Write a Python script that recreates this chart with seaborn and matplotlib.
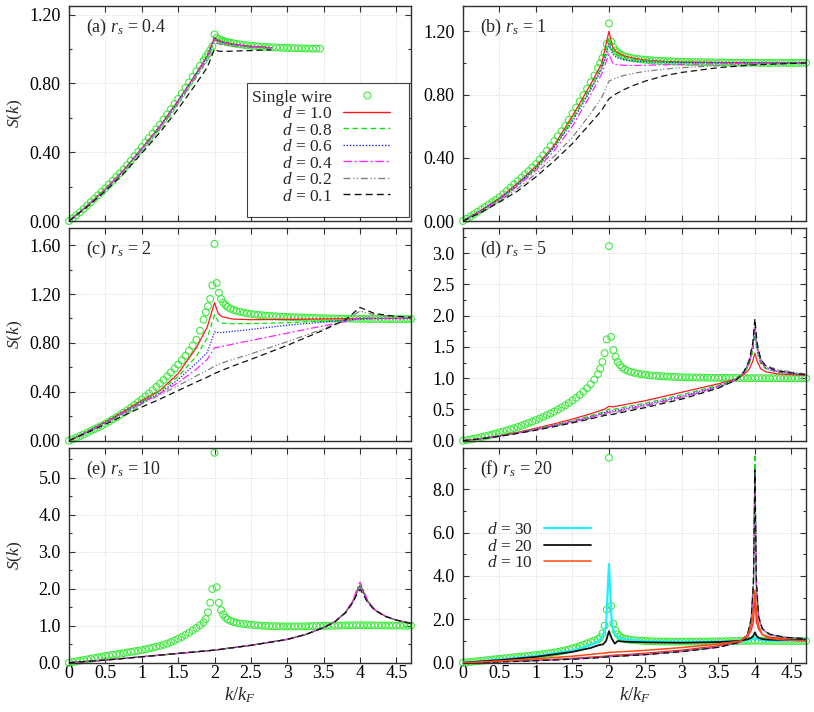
"""
Static structure factor S(k) of a double wire vs single wire, panels (a)-(f)
"""

import numpy as np
import matplotlib.pyplot as plt
import matplotlib.ticker as mticker
from matplotlib.lines import Line2D
from matplotlib.patches import Rectangle
import seaborn as sns

# ── Style ──────────────────────────────────────────────────────────────────
sns.set_theme(style='ticks')
plt.rcParams.update({
    'font.family': ['Liberation Serif', 'DejaVu Serif'],
    'mathtext.fontset': 'custom',
    'mathtext.rm': 'Liberation Serif',
    'mathtext.it': 'Liberation Serif:italic',
    'axes.edgecolor': '#303030',
    'axes.linewidth': 1.0,
    'xtick.color': '#303030',
    'ytick.color': '#303030',
    'xtick.labelcolor': 'black',
    'ytick.labelcolor': 'black',
    'xtick.labelsize': 13,
    'ytick.labelsize': 13,
    'xtick.major.pad': 2,
    'ytick.major.pad': 6,
})

# ── Data ───────────────────────────────────────────────────────────────────
# k/kF grid of the single-wire points (denser around k = 2 kF)
K_DOT = np.array([
    0.00, 0.05, 0.10, 0.15, 0.20, 0.25, 0.30, 0.35, 0.40, 0.45,
    0.50, 0.55, 0.60, 0.65, 0.70, 0.75, 0.80, 0.85, 0.90, 0.95,
    1.00, 1.05, 1.10, 1.15, 1.20, 1.25, 1.30, 1.35, 1.40, 1.45,
    1.50, 1.55, 1.60, 1.65, 1.70, 1.75, 1.80,
    1.85, 1.88, 1.91, 1.94, 1.97, 2.00, 2.03, 2.06, 2.09, 2.12, 2.15, 2.18,
    2.22, 2.26, 2.30,
    2.35, 2.40, 2.45, 2.50, 2.55, 2.60, 2.65, 2.70, 2.75, 2.80,
    2.85, 2.90, 2.95, 3.00, 3.05, 3.10, 3.15, 3.20, 3.25, 3.30,
    3.35, 3.40, 3.45, 3.50, 3.55, 3.60, 3.65, 3.70, 3.75, 3.80,
    3.85, 3.90, 3.95, 4.00, 4.05, 4.10, 4.15, 4.20, 4.25, 4.30,
    4.35, 4.40, 4.45, 4.50, 4.55, 4.60, 4.65, 4.70])

DOT_A = [0.000, 0.015, 0.033, 0.050, 0.070, 0.090, 0.110, 0.130, 0.150, 0.170,
         0.190, 0.212, 0.234, 0.256, 0.278, 0.300, 0.325, 0.350, 0.377, 0.403,
         0.430, 0.456, 0.482, 0.508, 0.534, 0.560, 0.590, 0.620, 0.650, 0.680,
         0.710, 0.742, 0.774, 0.806, 0.838, 0.870, 0.902,
         0.934, 0.953, 0.973, 0.993, 1.015, 1.085, 1.065, 1.058, 1.052, 1.047, 1.043, 1.040,
         1.036, 1.033, 1.030,
         1.027, 1.024, 1.021, 1.019, 1.017, 1.015, 1.013, 1.012, 1.011, 1.010,
         1.009, 1.008, 1.007, 1.006, 1.005, 1.005, 1.004, 1.004, 1.003, 1.003,
         1.002, 1.002, 1.002]

DOT_B = [0.000, 0.014, 0.028, 0.043, 0.058, 0.073, 0.088, 0.104, 0.119, 0.134,
         0.150, 0.170, 0.190, 0.211, 0.232, 0.253, 0.274, 0.295, 0.316, 0.338,
         0.360, 0.388, 0.416, 0.445, 0.474, 0.505, 0.536, 0.568, 0.600, 0.640,
         0.680, 0.718, 0.756, 0.796, 0.836, 0.878, 0.920,
         0.968, 0.998, 1.030, 1.065, 1.120, 1.250, 1.135, 1.100, 1.080, 1.066, 1.056, 1.048,
         1.041, 1.036, 1.032,
         1.028, 1.025, 1.022, 1.020, 1.018, 1.016, 1.014, 1.013, 1.012, 1.011,
         1.010, 1.009, 1.008, 1.007, 1.007, 1.006, 1.006, 1.005, 1.005, 1.004,
         1.004, 1.004, 1.003, 1.003, 1.003, 1.002, 1.002, 1.002, 1.002, 1.001,
         1.001, 1.001, 1.001, 1.001, 1.000, 1.000, 1.000, 1.000, 1.000, 1.000,
         1.000, 1.000, 1.000, 1.000, 1.000, 1.000, 1.000, 1.000]

DOT_C = [0.000, 0.012, 0.025, 0.038, 0.052, 0.066, 0.080, 0.094, 0.109, 0.124,
         0.140, 0.157, 0.174, 0.192, 0.210, 0.229, 0.249, 0.270, 0.292, 0.315,
         0.338, 0.362, 0.387, 0.413, 0.440, 0.468, 0.497, 0.527, 0.558, 0.590,
         0.623, 0.658, 0.695, 0.735, 0.778, 0.825, 0.900,
         0.990, 1.050, 1.100, 1.160, 1.270, 1.610, 1.290, 1.210, 1.160, 1.130, 1.110, 1.095,
         1.080, 1.070, 1.062,
         1.055, 1.048, 1.042, 1.037, 1.033, 1.029, 1.026, 1.023, 1.021, 1.019,
         1.017, 1.015, 1.013, 1.012, 1.011, 1.010, 1.009, 1.008, 1.007, 1.006,
         1.005, 1.004, 1.003, 1.002, 1.001, 1.000, 1.000, 0.999, 0.999, 0.998,
         0.998, 0.998, 0.997, 0.997, 0.997, 0.996, 0.996, 0.996, 0.996, 0.996,
         0.995, 0.995, 0.995, 0.995, 0.995, 0.995, 0.995, 0.995]

DOT_D = [0.000, 0.010, 0.020, 0.031, 0.043, 0.056, 0.070, 0.084, 0.099, 0.114,
         0.130, 0.147, 0.164, 0.182, 0.201, 0.220, 0.240, 0.261, 0.283, 0.306,
         0.330, 0.355, 0.381, 0.408, 0.436, 0.466, 0.497, 0.530, 0.565, 0.602,
         0.642, 0.685, 0.732, 0.783, 0.840, 0.903, 0.975,
         1.065, 1.150, 1.260, 1.400, 1.620, 3.110, 1.660, 1.450, 1.340, 1.260, 1.210, 1.170,
         1.140, 1.115, 1.100,
         1.085, 1.072, 1.062, 1.054, 1.047, 1.041, 1.036, 1.032, 1.028, 1.025,
         1.022, 1.019, 1.017, 1.015, 1.013, 1.012, 1.011, 1.010, 1.009, 1.008,
         1.007, 1.006, 1.005, 1.005, 1.004, 1.004, 1.003, 1.003, 1.002, 1.002,
         1.002, 1.001, 1.001, 1.000, 1.000, 1.000, 0.999, 0.999, 0.999, 0.999,
         0.999, 0.998, 0.998, 0.998, 0.998, 0.998, 0.998, 0.998]

DOT_E = [0.000, 0.018, 0.036, 0.054, 0.072, 0.090, 0.108, 0.126, 0.144, 0.162,
         0.180, 0.196, 0.212, 0.228, 0.244, 0.260, 0.276, 0.292, 0.308, 0.324,
         0.340, 0.362, 0.385, 0.408, 0.431, 0.455, 0.485, 0.518, 0.555, 0.598,
         0.645, 0.695, 0.750, 0.810, 0.875, 0.940, 1.010,
         1.090, 1.180, 1.360, 1.620, 1.990, 5.670, 2.040, 1.620, 1.420, 1.300, 1.220, 1.170,
         1.130, 1.100, 1.080,
         1.060, 1.045, 1.035, 1.025, 1.015, 1.008, 1.000, 0.995, 0.990, 0.987,
         0.985, 0.983, 0.982, 0.981, 0.981, 0.981, 0.982, 0.983, 0.984, 0.986,
         0.988, 0.990, 0.992, 0.994, 0.996, 0.998, 1.000, 1.002, 1.004, 1.006,
         1.008, 1.010, 1.011, 1.012, 1.011, 1.010, 1.009, 1.008, 1.007, 1.006,
         1.005, 1.004, 1.003, 1.002, 1.002, 1.001, 1.001, 1.000]

DOT_F = [0.000, 0.018, 0.036, 0.054, 0.072, 0.090, 0.108, 0.126, 0.144, 0.162,
         0.180, 0.197, 0.214, 0.231, 0.248, 0.265, 0.282, 0.299, 0.316, 0.333,
         0.350, 0.372, 0.395, 0.419, 0.444, 0.470, 0.500, 0.533, 0.570, 0.612,
         0.660, 0.712, 0.768, 0.828, 0.892, 0.958, 1.025,
         1.080, 1.170, 1.350, 1.700, 2.450, 9.450, 2.620, 1.800, 1.480, 1.310, 1.210, 1.150,
         1.100, 1.070, 1.050,
         1.035, 1.020, 1.010, 1.000, 0.993, 0.987, 0.982, 0.978, 0.975, 0.973,
         0.972, 0.971, 0.970, 0.970, 0.970, 0.971, 0.972, 0.973, 0.974, 0.976,
         0.978, 0.980, 0.982, 0.985, 0.988, 0.991, 0.994, 0.997, 1.000, 1.003,
         1.006, 1.008, 1.010, 1.012, 1.011, 1.010, 1.009, 1.008, 1.007, 1.006,
         1.005, 1.004, 1.003, 1.002, 1.002, 1.001, 1.001, 1.000]

# double-wire curves, order d = 1.0, 0.8, 0.6, 0.4, 0.2, 0.1
K_A = [0, 0.25, 0.5, 0.75, 1.0, 1.25, 1.5, 1.75, 1.9, 2.0, 2.05, 2.1, 2.2, 2.35, 2.5, 2.78]
LINES_A = [
    [0, 0.088, 0.186, 0.295, 0.422, 0.552, 0.700, 0.860, 0.960, 1.068, 1.052, 1.043, 1.033, 1.023, 1.016, 1.008],
    [0, 0.088, 0.186, 0.294, 0.421, 0.551, 0.699, 0.858, 0.958, 1.065, 1.050, 1.041, 1.031, 1.022, 1.015, 1.007],
    [0, 0.087, 0.185, 0.293, 0.420, 0.549, 0.697, 0.856, 0.955, 1.062, 1.047, 1.039, 1.030, 1.021, 1.014, 1.007],
    [0, 0.087, 0.184, 0.292, 0.418, 0.547, 0.694, 0.852, 0.951, 1.056, 1.043, 1.036, 1.028, 1.020, 1.013, 1.006],
    [0, 0.086, 0.182, 0.288, 0.412, 0.539, 0.684, 0.840, 0.937, 1.040, 1.030, 1.025, 1.019, 1.013, 1.009, 1.004],
    [0, 0.082, 0.174, 0.276, 0.394, 0.515, 0.652, 0.800, 0.893, 1.000, 0.988, 0.986, 0.987, 0.989, 0.991, 0.995],
]

K_B = [0, 0.25, 0.5, 0.75, 1.0, 1.25, 1.5, 1.75, 1.9, 2.0, 2.05, 2.1, 2.2, 2.35, 2.5, 2.75, 3.0, 3.5, 4.0, 4.7]
LINES_B = [
    [0, 0.068, 0.144, 0.240, 0.346, 0.480, 0.665, 0.865, 0.995, 1.200, 1.100, 1.070, 1.045, 1.028, 1.018, 1.010, 1.006, 1.003, 1.001, 1.000],
    [0, 0.067, 0.142, 0.236, 0.340, 0.472, 0.648, 0.848, 0.975, 1.160, 1.080, 1.055, 1.035, 1.022, 1.014, 1.008, 1.005, 1.002, 1.001, 1.000],
    [0, 0.066, 0.140, 0.232, 0.335, 0.465, 0.630, 0.830, 0.960, 1.120, 1.055, 1.035, 1.020, 1.012, 1.007, 1.004, 1.002, 1.001, 1.000, 1.000],
    [0, 0.064, 0.135, 0.222, 0.320, 0.445, 0.600, 0.800, 0.930, 1.055, 1.000, 0.990, 0.985, 0.984, 0.985, 0.988, 0.991, 0.995, 0.998, 1.000],
    [0, 0.058, 0.125, 0.205, 0.300, 0.410, 0.530, 0.680, 0.780, 0.885, 0.895, 0.905, 0.920, 0.935, 0.947, 0.960, 0.970, 0.983, 0.992, 1.000],
    [0, 0.055, 0.120, 0.190, 0.280, 0.380, 0.490, 0.620, 0.700, 0.773, 0.790, 0.805, 0.830, 0.860, 0.885, 0.918, 0.940, 0.970, 0.988, 1.000],
]

K_C = [0, 0.25, 0.5, 0.75, 1.0, 1.25, 1.5, 1.75, 1.9, 2.0, 2.05, 2.1, 2.25, 2.5, 3.0, 3.5, 3.8, 4.0, 4.2, 4.45, 4.7]
LINES_C = [
    [0, 0.074, 0.154, 0.240, 0.330, 0.410, 0.550, 0.760, 0.930, 1.130, 1.040, 1.015, 0.995, 0.990, 0.992, 0.996, 0.998, 1.000, 1.000, 1.000, 1.000],
    [0, 0.073, 0.152, 0.236, 0.322, 0.405, 0.525, 0.690, 0.840, 1.030, 0.975, 0.962, 0.957, 0.958, 0.965, 0.978, 0.988, 0.995, 0.998, 1.000, 1.000],
    [0, 0.072, 0.150, 0.232, 0.315, 0.390, 0.500, 0.635, 0.720, 0.890, 0.885, 0.885, 0.895, 0.910, 0.945, 0.970, 0.985, 0.995, 1.000, 1.000, 1.000],
    [0, 0.072, 0.148, 0.228, 0.310, 0.385, 0.475, 0.585, 0.665, 0.760, 0.765, 0.770, 0.790, 0.820, 0.880, 0.940, 0.975, 1.005, 1.000, 1.000, 1.000],
    [0, 0.070, 0.145, 0.220, 0.300, 0.375, 0.450, 0.530, 0.575, 0.610, 0.622, 0.635, 0.665, 0.710, 0.810, 0.915, 0.990, 1.060, 1.030, 1.015, 1.010],
    [0, 0.065, 0.135, 0.205, 0.275, 0.340, 0.410, 0.480, 0.520, 0.550, 0.562, 0.575, 0.610, 0.665, 0.780, 0.905, 0.990, 1.090, 1.040, 1.020, 1.010],
]

K_D = [0, 0.25, 0.5, 0.75, 1.0, 1.25, 1.5, 1.75, 1.95, 2.0, 2.05, 2.25, 2.5, 3.0, 3.5,
       3.75, 3.85, 3.92, 3.97, 4.0, 4.03, 4.08, 4.15, 4.3, 4.5, 4.7]
LINES_D = [
    [0, 0.035, 0.080, 0.135, 0.200, 0.270, 0.345, 0.430, 0.510, 0.550, 0.540, 0.585, 0.640, 0.775, 0.910,
     0.990, 1.060, 1.140, 1.270, 1.400, 1.270, 1.150, 1.100, 1.070, 1.055, 1.045],
    [0, 0.034, 0.076, 0.128, 0.188, 0.252, 0.320, 0.398, 0.470, 0.505, 0.500, 0.545, 0.600, 0.735, 0.885,
     0.985, 1.080, 1.210, 1.420, 1.700, 1.420, 1.230, 1.150, 1.100, 1.070, 1.050],
    [0, 0.033, 0.074, 0.124, 0.182, 0.244, 0.310, 0.384, 0.452, 0.475, 0.475, 0.520, 0.578, 0.712, 0.870,
     0.982, 1.090, 1.230, 1.470, 1.780, 1.470, 1.250, 1.160, 1.105, 1.075, 1.052],
    [0, 0.033, 0.073, 0.121, 0.177, 0.238, 0.302, 0.374, 0.440, 0.455, 0.458, 0.505, 0.565, 0.700, 0.860,
     0.980, 1.095, 1.240, 1.500, 1.830, 1.500, 1.270, 1.170, 1.110, 1.080, 1.055],
    [0, 0.032, 0.072, 0.119, 0.173, 0.232, 0.294, 0.362, 0.425, 0.435, 0.440, 0.490, 0.550, 0.685, 0.850,
     0.978, 1.100, 1.260, 1.530, 1.880, 1.540, 1.300, 1.200, 1.140, 1.100, 1.065],
    [0, 0.031, 0.070, 0.116, 0.168, 0.225, 0.285, 0.350, 0.405, 0.415, 0.420, 0.470, 0.530, 0.665, 0.840,
     0.975, 1.105, 1.280, 1.560, 1.950, 1.560, 1.300, 1.190, 1.120, 1.085, 1.055],
]

K_E = [0, 0.5, 1.0, 1.5, 2.0, 2.5, 3.0, 3.25, 3.5, 3.65, 3.8, 3.9, 3.96, 4.0, 4.04, 4.1, 4.2, 4.35, 4.5, 4.7]
LINES_E = [
    [0, 0.07, 0.16, 0.25, 0.34, 0.47, 0.63, 0.76, 0.95, 1.10, 1.36, 1.65, 1.94, 2.10, 1.94, 1.68, 1.43, 1.25, 1.15, 1.06],
    [0, 0.07, 0.16, 0.25, 0.34, 0.47, 0.63, 0.76, 0.95, 1.10, 1.36, 1.66, 1.96, 2.12, 1.95, 1.68, 1.43, 1.25, 1.15, 1.06],
    [0, 0.07, 0.16, 0.25, 0.34, 0.47, 0.63, 0.76, 0.95, 1.10, 1.35, 1.64, 1.92, 2.08, 1.92, 1.67, 1.43, 1.25, 1.15, 1.06],
    [0, 0.07, 0.16, 0.25, 0.34, 0.47, 0.63, 0.76, 0.95, 1.10, 1.37, 1.68, 2.00, 2.18, 2.00, 1.70, 1.44, 1.26, 1.15, 1.06],
    [0, 0.07, 0.16, 0.25, 0.34, 0.47, 0.63, 0.76, 0.95, 1.10, 1.35, 1.63, 1.90, 2.05, 1.90, 1.66, 1.42, 1.25, 1.15, 1.06],
    [0, 0.07, 0.16, 0.25, 0.34, 0.47, 0.63, 0.76, 0.95, 1.10, 1.35, 1.62, 1.86, 1.98, 1.86, 1.64, 1.42, 1.25, 1.15, 1.06],
]

K_F = [0, 0.5, 1.0, 1.5, 1.75, 1.85, 1.92, 1.96, 2.0, 2.04, 2.08, 2.12, 2.2, 2.5, 3.0,
       3.5, 3.8, 3.9, 3.95, 3.98, 4.0, 4.02, 4.05, 4.1, 4.2, 4.4, 4.7]
LINES_F = [
    [0, 0.05, 0.12, 0.20, 0.26, 0.28, 0.30, 0.31, 0.33, 0.34, 0.35, 0.36, 0.37, 0.44, 0.58,
     0.78, 0.98, 1.20, 1.50, 1.90, 3.00, 1.90, 1.55, 1.30, 1.18, 1.10, 1.06],
    [0, 0.04, 0.10, 0.17, 0.22, 0.24, 0.26, 0.27, 0.28, 0.29, 0.30, 0.31, 0.32, 0.38, 0.52,
     0.72, 0.95, 1.30, 2.05, 4.00, 9.60, 4.00, 2.15, 1.55, 1.30, 1.17, 1.10],
    [0, 0.04, 0.10, 0.17, 0.22, 0.24, 0.26, 0.27, 0.28, 0.29, 0.30, 0.31, 0.32, 0.38, 0.52,
     0.72, 0.95, 1.30, 2.00, 3.60, 8.70, 3.60, 2.10, 1.55, 1.30, 1.17, 1.10],
    [0, 0.04, 0.10, 0.17, 0.22, 0.24, 0.26, 0.27, 0.28, 0.29, 0.30, 0.31, 0.32, 0.38, 0.52,
     0.72, 0.95, 1.30, 2.00, 3.50, 8.50, 3.50, 2.10, 1.55, 1.30, 1.17, 1.10],
    [0, 0.04, 0.10, 0.17, 0.22, 0.24, 0.26, 0.27, 0.28, 0.29, 0.30, 0.31, 0.32, 0.38, 0.52,
     0.72, 0.95, 1.28, 1.95, 3.45, 8.30, 3.45, 2.05, 1.52, 1.28, 1.16, 1.09],
    [0, 0.035, 0.09, 0.16, 0.21, 0.23, 0.25, 0.26, 0.27, 0.28, 0.29, 0.30, 0.31, 0.37, 0.51,
     0.71, 0.95, 1.32, 2.05, 3.70, 8.90, 3.70, 2.15, 1.58, 1.32, 1.18, 1.10],
]
# large separations, panel (f) only: d = 30, 20, 10
FAR_F = [
    [0.00, 0.15, 0.31, 0.56, 0.82, 0.98, 1.25, 1.70, 4.55, 1.75, 1.32, 1.18, 1.08, 0.99, 0.96,
     0.97, 1.01, 1.04, 1.07, 1.10, 1.16, 1.10, 1.07, 1.04, 1.02, 1.01, 1.00],
    [0.00, 0.12, 0.27, 0.50, 0.68, 0.80, 0.85, 1.00, 1.45, 1.10, 0.88, 1.00, 0.97, 0.94, 0.92,
     0.95, 1.01, 1.08, 1.15, 1.25, 1.40, 1.25, 1.15, 1.09, 1.06, 1.05, 1.04],
    [0.00, 0.08, 0.18, 0.30, 0.38, 0.42, 0.44, 0.45, 0.48, 0.48, 0.49, 0.50, 0.51, 0.57, 0.70,
     0.86, 1.00, 1.25, 1.70, 2.40, 3.35, 2.40, 1.70, 1.30, 1.12, 1.05, 1.00],
]

D_LABELS = ['1.0', '0.8', '0.6', '0.4', '0.2', '0.1']
FAR_LABELS = ['30', '20', '10']
PANEL_TEXT = ['(a) $r_s$ = 0.4', '(b) $r_s$ = 1', '(c) $r_s$ = 2',
              '(d) $r_s$ = 5', '(e) $r_s$ = 10', '(f) $r_s$ = 20']

# ── Styles ─────────────────────────────────────────────────────────────────
DOT_COLOR = '#3fe83f'
D_COLORS = ['#ff1a1a', '#11dd11', '#1a1aff', '#ff22ff', '#808080', '#111111']
D_STYLES = ['-', (0, (4, 2.5)), (0, (1, 1.3)), (0, (6, 2, 1.5, 2)),
            (0, (5, 2, 1, 1.5, 1, 2)), (0, (5, 3))]
FAR_COLORS = ['#22eeff', '#111111', '#ff4a10']
FAR_WIDTHS = [1.6, 1.3, 1.1]

fig = plt.figure(figsize=(8.14, 7.12), dpi=100)
W, H = 814, 712
lefts = [69, 463]
widths = [342, 343]
rows = [(6, 221), (228, 440.7), (448, 662.7)]
axes = []
for r, (top, bot) in enumerate(rows):
    for c in range(2):
        axes.append(fig.add_axes([lefts[c] / W, (H - bot) / H,
                                  widths[c] / W, (bot - top) / H]))

panels = [
    (K_A, LINES_A, DOT_A, 1.25, 0.4, '%.2f'),
    (K_B, LINES_B, DOT_B, 1.36, 0.4, '%.2f'),
    (K_C, LINES_C, DOT_C, 1.74, 0.4, '%.2f'),
    (K_D, LINES_D, DOT_D, 3.40, 0.5, '%.1f'),
    (K_E, LINES_E, DOT_E, 5.80, 1.0, '%.1f'),
    (K_F, LINES_F, DOT_F, 9.90, 2.0, '%.1f'),
]

for i, (ax, (kk, lines, dots, ytop, major, fmt)) in enumerate(zip(axes, panels)):
    sns.scatterplot(x=K_DOT[:len(dots)], y=dots, ax=ax, marker='o', s=24,
                    facecolors='none', edgecolor=DOT_COLOR, linewidth=0.8,
                    legend=False, clip_on=False, zorder=2)
    for s, col, ls in zip(lines, D_COLORS, D_STYLES):
        sns.lineplot(x=kk, y=s, ax=ax, color=col, linestyle=ls, linewidth=0.9,
                     errorbar=None, legend=False, zorder=3)
    if i == 5:
        for s, col, lw in zip(FAR_F, FAR_COLORS, FAR_WIDTHS):
            sns.lineplot(x=kk, y=s, ax=ax, color=col, linewidth=lw,
                         errorbar=None, legend=False, zorder=4)

    ax.set_xlim(0, 4.7)
    ax.set_ylim(0, ytop)
    ax.xaxis.set_major_locator(mticker.MultipleLocator(0.5))
    ax.xaxis.set_major_formatter(mticker.FuncFormatter(lambda v, _: f'{v:g}'))
    ax.yaxis.set_major_locator(mticker.MultipleLocator(major))
    ax.yaxis.set_minor_locator(mticker.MultipleLocator(major / 2))
    ax.yaxis.set_major_formatter(mticker.FormatStrFormatter(fmt))
    ax.tick_params(which='both', direction='in', top=True, right=True, width=0.8)
    ax.tick_params(which='major', length=4.5)
    ax.tick_params(which='minor', length=2.5)
    ax.grid(True, which='major', color='#c8c8c8', linestyle=(0, (1, 2)), linewidth=0.6)
    ax.set_axisbelow(True)
    ax.set_xlabel('')
    ax.set_ylabel('')
    if i < 4:
        ax.tick_params(labelbottom=False)
    else:
        ax.set_xlabel('$k/k_F$', fontsize=13.5)
        ax.xaxis.set_label_coords(0.5, -0.105)
    if i % 2 == 0:
        ax.set_ylabel('$S(k)$', fontsize=12.5)
        ax.yaxis.set_label_coords(-0.128, 0.5)
    ax.text(0.05, 0.88, PANEL_TEXT[i], transform=ax.transAxes, fontsize=13,
            ha='left', va='baseline')

# ── Legends ────────────────────────────────────────────────────────────────
ax = axes[0]
ax.add_patch(Rectangle((0.52, 0.019), 0.474, 0.623, transform=ax.transAxes,
                       facecolor='white', edgecolor='#404040', linewidth=0.8, zorder=5))
handles = [Line2D([], [], marker='o', linestyle='none', markerfacecolor='none',
                  markeredgecolor=DOT_COLOR, markersize=5, markeredgewidth=0.8)]
handles += [Line2D([], [], color=c, linestyle=ls, linewidth=1.0)
            for c, ls in zip(D_COLORS, D_STYLES)]
labels = ['Single wire'] + [f'$d$ = {d}' for d in D_LABELS]
leg = ax.legend(handles, labels, loc='upper right', bbox_to_anchor=(0.939, 0.612),
                markerfirst=False, frameon=False, borderaxespad=0, borderpad=0,
                handlelength=2.7, handletextpad=0.63, labelspacing=0.02, fontsize=12.5)
leg.set_zorder(6)

far_handles = [Line2D([], [], color=c, linewidth=lw)
               for c, lw in zip(FAR_COLORS, FAR_WIDTHS)]
axes[5].legend(far_handles, [f'$d$ = {d}' for d in FAR_LABELS], loc='upper left',
               bbox_to_anchor=(0.07, 0.655), markerfirst=False, frameon=False,
               borderaxespad=0, borderpad=0, handlelength=2.7, handletextpad=0.63,
               labelspacing=0.02, fontsize=12.5)

fig.savefig('out.png', dpi=100)
print("[Saved] out.png")
